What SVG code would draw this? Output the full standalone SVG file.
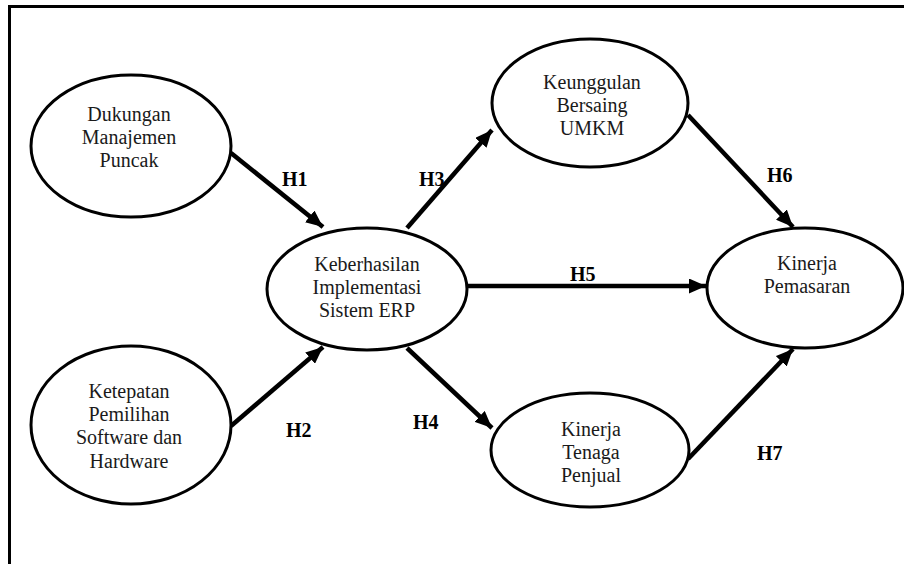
<svg xmlns="http://www.w3.org/2000/svg" width="904" height="564" viewBox="0 0 904 564">
<style>
.node ellipse{fill:#fff;stroke:#000;stroke-width:3}
.node text{font-family:"Liberation Serif","Times New Roman",serif;font-size:20px;text-anchor:middle;fill:#1a1a1a}
.conn line{stroke:#000;stroke-width:4.5}
.lbl{font-family:"Liberation Serif","Times New Roman",serif;font-size:20px;font-weight:bold;fill:#000}
</style>
<defs>
<marker id="arr" markerUnits="userSpaceOnUse" markerWidth="17" markerHeight="15" refX="17" refY="7.5" orient="auto">
<path d="M0,0 L17,7.5 L0,15 z" fill="#000"/>
</marker>
</defs>
<rect width="904" height="564" fill="#fff"/>
<g id="frame" stroke="#000" stroke-width="3" fill="none">
<line x1="9.5" y1="6.5" x2="904" y2="6.5"/>
<line x1="9.5" y1="5" x2="9.5" y2="564"/>
</g>
<g class="conn" id="connectors">
<line x1="231" y1="153" x2="323" y2="227" marker-end="url(#arr)"/>
<line x1="231" y1="426" x2="323" y2="347" marker-end="url(#arr)"/>
<line x1="407" y1="228" x2="492" y2="130" marker-end="url(#arr)"/>
<line x1="407" y1="348" x2="492" y2="428" marker-end="url(#arr)"/>
<line x1="468" y1="286" x2="706" y2="286" marker-end="url(#arr)"/>
<line x1="688" y1="115" x2="793" y2="227" marker-end="url(#arr)"/>
<line x1="688" y1="459" x2="793" y2="349" marker-end="url(#arr)"/>
</g>
<g id="labels">
<text class="lbl" x="282" y="186">H1</text>
<text class="lbl" x="286" y="437">H2</text>
<text class="lbl" x="419" y="186">H3</text>
<text class="lbl" x="413" y="429">H4</text>
<text class="lbl" x="570" y="281">H5</text>
<text class="lbl" x="767" y="182">H6</text>
<text class="lbl" x="757" y="460">H7</text>
</g>
<g class="node" id="dukungan">
<ellipse cx="131" cy="146" rx="100" ry="71"/>
<text x="129" y="121">Dukungan</text>
<text x="129" y="144">Manajemen</text>
<text x="129" y="167">Puncak</text>
</g>
<g class="node" id="ketepatan">
<ellipse cx="131" cy="425" rx="100" ry="79"/>
<text x="129" y="398">Ketepatan</text>
<text x="129" y="421">Pemilihan</text>
<text x="129" y="444">Software dan</text>
<text x="129" y="468">Hardware</text>
</g>
<g class="node" id="keberhasilan">
<ellipse cx="367" cy="289" rx="100" ry="61"/>
<text x="367" y="271">Keberhasilan</text>
<text x="367" y="294">Implementasi</text>
<text x="367" y="317">Sistem ERP</text>
</g>
<g class="node" id="keunggulan">
<ellipse cx="590" cy="103" rx="98" ry="64"/>
<text x="592" y="89">Keunggulan</text>
<text x="592" y="112">Bersaing</text>
<text x="592" y="135">UMKM</text>
</g>
<g class="node" id="kinerja-tenaga">
<ellipse cx="590" cy="450" rx="99" ry="57"/>
<text x="591" y="436">Kinerja</text>
<text x="591" y="459">Tenaga</text>
<text x="591" y="482">Penjual</text>
</g>
<g class="node" id="kinerja-pemasaran">
<ellipse cx="805" cy="288" rx="98" ry="60"/>
<text x="807" y="270">Kinerja</text>
<text x="807" y="293">Pemasaran</text>
</g>
</svg>
